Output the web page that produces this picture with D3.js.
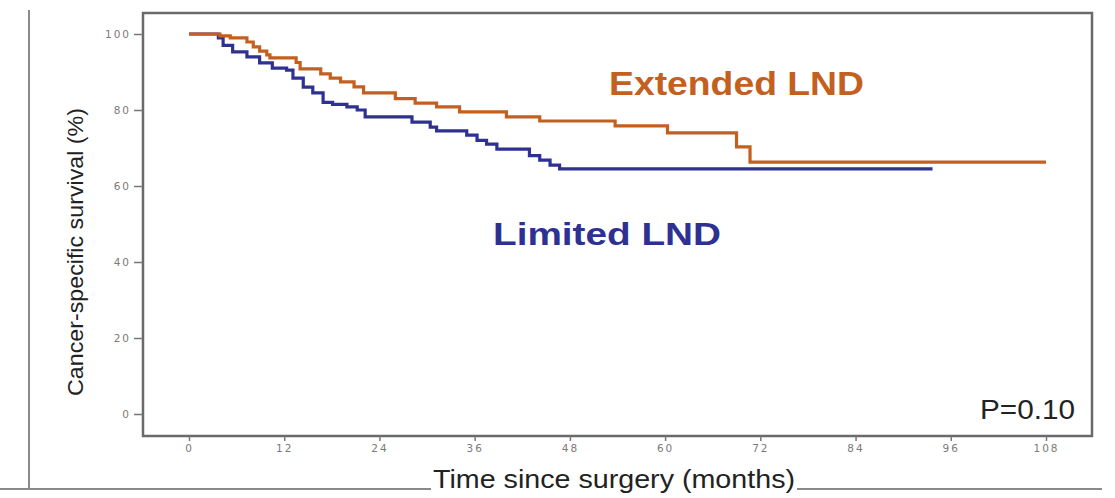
<!DOCTYPE html>
<html>
<head>
<meta charset="utf-8">
<script src="https://cdn.jsdelivr.net/npm/d3@7"></script>
<style>
  body { margin: 0; background: #fff; }
  .tick text { font-family: "DejaVu Sans", sans-serif; font-size: 10.5px; fill: #7a7a7a; letter-spacing: 2px; }
  .tick line { stroke: #777; stroke-width: 1.5; }
</style>
</head>
<body>
<svg id="km" width="1115" height="498"></svg>
<script>
// ticks
const xTicks = [0, 12, 24, 36, 48, 60, 72, 84, 96, 108];
const yTicks = [0, 20, 40, 60, 80, 100];

// Limited LND: step times (months) and survival (%) after each step
const limitedTimes = [0, 3.7, 4.3, 5.5, 7.3, 8.9, 10.5, 12.3, 13.1, 14.4, 15.6, 16.9, 18.1, 19.9, 21.2, 22.2,
                      28.1, 30.4, 31.2, 35.0, 36.3, 37.5, 38.8, 42.9, 44.2, 45.5, 46.7];
const limitedSurv  = [100, 99, 97, 95.3, 94, 92.4, 91, 90.5, 88.4, 86, 84.5, 82, 81.5, 80.8, 80, 78.2,
                      76.8, 75.5, 74.5, 73.4, 72, 71, 69.7, 68, 66.8, 65.5, 64.5];
const limitedEnd = 93.7;

// Extended LND
const extendedTimes = [0, 3.9, 5.2, 7.3, 8.1, 8.9, 9.8, 10.2, 13.5, 14.0, 16.6, 17.8, 19.1, 20.8, 22.0,
                       26.0, 28.5, 31.2, 34.1, 40.0, 44.2, 53.7, 60.3, 69.0, 70.7];
const extendedSurv  = [100, 99.5, 99, 97.9, 96.6, 95.5, 94.5, 93.7, 92.5, 90.8, 89.5, 88.4, 87.4, 86.1, 84.5,
                       83, 81.8, 80.8, 79.5, 78.2, 77.1, 75.8, 74, 70.3, 66.3];
const extendedEnd = 108;

const svg = d3.select("#km");

// outer frame lines
svg.append("line")
    .attr("x1", 29).attr("x2", 29).attr("y1", 10).attr("y2", 489)
    .style("stroke", "#8a8a8a").style("stroke-width", 2);

const x = d3.scaleLinear().domain([0, 108]).range([189, 1046]);
const y = d3.scaleLinear().domain([0, 100]).range([414, 34]);

// plot frame
svg.append("rect")
    .attr("x", 143).attr("y", 13)
    .attr("width", 1092 - 143).attr("height", 436 - 13)
    .style("fill", "none").style("stroke", "#6a6a6a").style("stroke-width", 2.5);

let yAxis = svg.append("g")
    .attr("transform", "translate(143,0)")
    .call(d3.axisLeft(y).tickValues(yTicks).tickSize(9).tickPadding(3));
yAxis.select(".domain").remove();

let xAxis = svg.append("g")
    .attr("transform", "translate(0,436)")
    .call(d3.axisBottom(x).tickValues(xTicks).tickSize(5).tickPadding(4));
xAxis.select(".domain").remove();

// build step series
function series(times, surv, end) {
    let pts = times.map((t, i) => ({t: t, s: surv[i]}));
    pts.push({t: end, s: surv[surv.length - 1]});
    return pts;
}
const line = d3.line()
    .x(d => x(d.t))
    .y(d => y(d.s))
    .curve(d3.curveStepAfter);

svg.append("path")
    .datum(series(limitedTimes, limitedSurv, limitedEnd))
    .attr("d", line)
    .style("fill", "none")
    .style("stroke", "#2e3192")
    .style("stroke-width", 3.2);

svg.append("path")
    .datum(series(extendedTimes, extendedSurv, extendedEnd))
    .attr("d", line)
    .style("fill", "none")
    .style("stroke", "#c4601f")
    .style("stroke-width", 3.2);

// labels
svg.append("text")
    .attr("x", 609).attr("y", 95)
    .attr("textLength", 255).attr("lengthAdjust", "spacingAndGlyphs")
    .style("font-family", "Liberation Sans, Arial, sans-serif")
    .style("font-weight", "bold").style("font-size", "33px")
    .style("fill", "#c4601f")
    .text("Extended LND");

svg.append("text")
    .attr("x", 493).attr("y", 245)
    .attr("textLength", 228).attr("lengthAdjust", "spacingAndGlyphs")
    .style("font-family", "Liberation Sans, Arial, sans-serif")
    .style("font-weight", "bold").style("font-size", "32px")
    .style("fill", "#2e3192")
    .text("Limited LND");

svg.append("text")
    .attr("x", 980).attr("y", 419)
    .attr("textLength", 95).attr("lengthAdjust", "spacingAndGlyphs")
    .style("font-family", "Liberation Sans, Arial, sans-serif")
    .style("font-size", "27px")
    .style("fill", "#222")
    .text("P=0.10");

svg.append("text")
    .attr("transform", "translate(83,252) rotate(-90)")
    .attr("text-anchor", "middle")
    .attr("textLength", 288).attr("lengthAdjust", "spacingAndGlyphs")
    .style("font-family", "Liberation Sans, Arial, sans-serif")
    .style("font-size", "22px")
    .style("fill", "#222")
    .text("Cancer-specific survival  (%)");

let xLabel = svg.append("text")
    .attr("x", 433).attr("y", 488)
    .attr("textLength", 362).attr("lengthAdjust", "spacingAndGlyphs")
    .style("font-family", "Liberation Sans, Arial, sans-serif")
    .style("font-size", "26px")
    .style("fill", "#222")
    .text("Time since surgery (months)");

// bottom rule, broken where the title sits
const bb = xLabel.node().getBBox();
svg.append("line")
    .attr("x1", 0).attr("x2", bb.x - 2).attr("y1", 489).attr("y2", 489)
    .style("stroke", "#8a8a8a").style("stroke-width", 2);
svg.append("line")
    .attr("x1", bb.x + bb.width + 2).attr("x2", 1102).attr("y1", 489).attr("y2", 489)
    .style("stroke", "#8a8a8a").style("stroke-width", 2);
</script>
</body>
</html>
